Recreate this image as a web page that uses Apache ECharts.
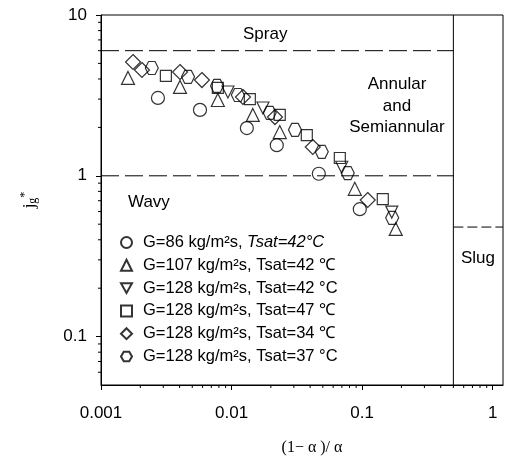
<!DOCTYPE html>
<html><head><meta charset="utf-8">
<script src="https://cdn.jsdelivr.net/npm/echarts@6/dist/echarts.min.js"></script>
<style>html,body{margin:0;padding:0;background:#fff}#c{width:509px;height:467px}</style>
</head><body><div id="c"></div>
<script>
// ---- axis ranges ----
const xMin = 0.001, xMax = 1.2;
const yMin = 0.05, yMax = 10;

// ---- regime boundaries ----
const sprayBoundaryY = 6;
const wavyBoundaryY = 1;
const slugBoundaryX = 0.5;
const slugBoundaryY = 0.48;

// ---- series names ----
const seriesNames = [
  'G=86 kg/m²s, Tsat=42°C',
  'G=107 kg/m²s, Tsat=42 ℃',
  'G=128 kg/m²s, Tsat=42 °C',
  'G=128 kg/m²s, Tsat=47 ℃',
  'G=128 kg/m²s, Tsat=34 ℃',
  'G=128 kg/m²s, Tsat=37 °C'
];

// ---- data: (1-α)/α  and  jg* ----
const g86_t42_x  = [0.00273, 0.00573, 0.0131, 0.0222, 0.0466, 0.096];
const g86_t42_y  = [3.05, 2.57, 1.98, 1.55, 1.03, 0.62];

const g107_t42_x = [0.00161, 0.00403, 0.00785, 0.01455, 0.0234, 0.0879, 0.181];
const g107_t42_y = [4.06, 3.57, 2.96, 2.39, 1.87, 0.83, 0.467];

const g128_t42_x = [0.00938, 0.0174, 0.0698, 0.1687];
const g128_t42_y = [3.32, 2.64, 1.13, 0.595];

const g128_t47_x = [0.00314, 0.00785, 0.0138, 0.0234, 0.0377, 0.0675, 0.144];
const g128_t47_y = [4.18, 3.52, 3.0, 2.39, 1.79, 1.29, 0.717];

const g128_t34_x = [0.00176, 0.00206, 0.00403, 0.00593, 0.01223, 0.0215, 0.0419, 0.1104];
const g128_t34_y = [5.1, 4.55, 4.42, 3.94, 3.09, 2.32, 1.51, 0.707];

const g128_t37_x = [0.00245, 0.00464, 0.00774, 0.01117, 0.0196, 0.0306, 0.0491, 0.0776, 0.17];
const g128_t37_y = [4.68, 4.12, 3.62, 3.18, 2.46, 1.93, 1.41, 1.04, 0.547];

// ---- tick labels ----
const xTickLabels = ['0.001', '0.01', '0.1', '1'];
const yTickLabels = ['0.1', '1', '10'];

function pairs(xs, ys) { return xs.map((x, i) => [x, ys[i]]); }

const symbols = [
  'circle',
  'triangle',
  'path://M0,0 L100,0 L50,87 Z',
  'rect',
  'diamond',
  'path://M25,0 L75,0 L100,43 L75,87 L25,87 L0,43 Z'
];
const sizes = [13, 13, 12, 11, 15, 13];
const dataSets = [
  pairs(g86_t42_x, g86_t42_y),
  pairs(g107_t42_x, g107_t42_y),
  pairs(g128_t42_x, g128_t42_y),
  pairs(g128_t47_x, g128_t47_y),
  pairs(g128_t34_x, g128_t34_y),
  pairs(g128_t37_x, g128_t37_y)
];

// minor tick positions (2..9 × 10^k)
const xMinor = [], yMinor = [];
for (let k = -3; k <= 0; k++) for (let m = 2; m <= 9; m++) {
  const v = m * Math.pow(10, k); if (v > xMin && v < xMax) xMinor.push([v, yMin]);
}
for (let k = -2; k <= 0; k++) for (let m = 2; m <= 9; m++) {
  const v = m * Math.pow(10, k); if (v > yMin && v < yMax) yMinor.push([xMin, v]);
}

function minorTick(dir) {
  return function (params, api) {
    const p = api.coord([api.value(0), api.value(1)]);
    const shape = dir === 'x'
      ? { x1: p[0], y1: p[1], x2: p[0], y2: p[1] + 3 }
      : { x1: p[0], y1: p[1], x2: p[0] - 3, y2: p[1] };
    return { type: 'line', shape: shape, style: { stroke: '#000', lineWidth: 1 } };
  };
}

function fmt(v, list) {
  const s = String(+v.toPrecision(3));
  return list.indexOf(s) >= 0 ? s : '';
}

const FONT = 'Liberation Sans';
const series = [];

// boundary lines
series.push({ type: 'line', data: [[xMin, sprayBoundaryY], [slugBoundaryX, sprayBoundaryY]], symbol: 'none', silent: true,
  lineStyle: { color: '#000', width: 1, type: [18, 6] }, z: 1 });
series.push({ type: 'line', data: [[xMin, wavyBoundaryY], [slugBoundaryX, wavyBoundaryY]], symbol: 'none', silent: true,
  lineStyle: { color: '#000', width: 1, type: [18, 6] }, z: 1 });
series.push({ type: 'line', data: [[slugBoundaryX, yMin], [slugBoundaryX, yMax]], symbol: 'none', silent: true,
  lineStyle: { color: '#000', width: 1 }, z: 1 });
series.push({ type: 'line', data: [[slugBoundaryX, slugBoundaryY], [xMax, slugBoundaryY]], symbol: 'none', silent: true,
  lineStyle: { color: '#000', width: 1, type: [10, 4] }, z: 1 });

// minor ticks
series.push({ type: 'custom', data: xMinor, renderItem: minorTick('x'), clip: false, silent: true, encode: { x: 0, y: 1 } });
series.push({ type: 'custom', data: yMinor, renderItem: minorTick('y'), clip: false, silent: true, encode: { x: 0, y: 1 } });

seriesNames.forEach((name, i) => {
  series.push({
    name: name, type: 'scatter', data: dataSets[i], symbol: symbols[i], symbolSize: sizes[i], z: 5,
    itemStyle: { color: 'rgba(0,0,0,0)', borderColor: '#000', borderWidth: 1.2 }
  });
});

const chart = echarts.init(document.getElementById('c'), null, { renderer: 'canvas' });
chart.setOption({
  backgroundColor: '#fff',
  animation: false,
  grid: { left: 101, right: 6, top: 15, bottom: 82, show: true, borderColor: '#000', borderWidth: 1 },
  xAxis: {
    type: 'log', logBase: 10, min: xMin, max: xMax,
    axisLine: { lineStyle: { color: '#000' } },
    axisTick: { length: 5, lineStyle: { color: '#000' } },
    splitLine: { show: false },
    axisLabel: { color: '#000', fontSize: 17, fontFamily: FONT, margin: 20, showMaxLabel: false,
      formatter: v => fmt(v, xTickLabels) },
    name: '(1− α )/ α', nameLocation: 'middle', nameGap: 55,
    nameTextStyle: { fontFamily: 'Liberation Serif', fontSize: 16, color: '#000', padding: [0, 0, 0, 20] }
  },
  yAxis: {
    type: 'log', logBase: 10, min: yMin, max: yMax,
    axisLine: { lineStyle: { color: '#000' } },
    axisTick: { length: 5, lineStyle: { color: '#000' } },
    splitLine: { show: false },
    axisLabel: { color: '#000', fontSize: 17, fontFamily: FONT, margin: 14, showMinLabel: false,
      formatter: v => fmt(v, yTickLabels) },
    name: '{j|j}{s|g}{p|*}', nameLocation: 'middle', nameGap: 60, nameRotate: 90,
    nameTextStyle: { color: '#000', rich: {
      j: { fontFamily: 'Liberation Serif', fontSize: 17, color: '#000' },
      s: { fontFamily: 'Liberation Serif', fontSize: 12, color: '#000', padding: [6, 0, 0, 0] },
      p: { fontFamily: 'Liberation Serif', fontSize: 12, color: '#000', padding: [0, 0, 10, 0] }
    } }
  },
  legend: {
    data: seriesNames, orient: 'vertical', left: 120, top: 234, padding: 0,
    itemWidth: 11, itemHeight: 11, itemGap: 5.8,
    formatter: function (name) {
      const cut = name.indexOf(', ');
      const head = name.slice(0, cut + 2), tail = name.slice(cut + 2);
      const italic = name.indexOf('G=86') === 0;
      return '{sp|}{n|' + head + '}' + (italic ? '{it|' + tail + '}' : '{n|' + tail + '}');
    },
    textStyle: { color: '#000', rich: {
      sp: { width: 6, lineHeight: 18 },
      n: { fontFamily: FONT, fontSize: 16.5, color: '#000', lineHeight: 18 },
      it: { fontFamily: FONT, fontSize: 16.5, fontStyle: 'italic', color: '#000', lineHeight: 18 }
    } }
  },
  graphic: [
    { type: 'text', left: 243, top: 26, style: { text: 'Spray', font: '17px "Liberation Sans"', fill: '#000' } },
    { type: 'text', x: 397, y: 74, style: { text: 'Annular\nand\nSemiannular', font: '17px "Liberation Sans"', fill: '#000', align: 'center', lineHeight: 21.5 } },
    { type: 'text', left: 128, top: 194, style: { text: 'Wavy', font: '17px "Liberation Sans"', fill: '#000' } },
    { type: 'text', x: 478, y: 250, style: { text: 'Slug', font: '17px "Liberation Sans"', fill: '#000', align: 'center' } }
  ],
  series: series
});
</script></body></html>
